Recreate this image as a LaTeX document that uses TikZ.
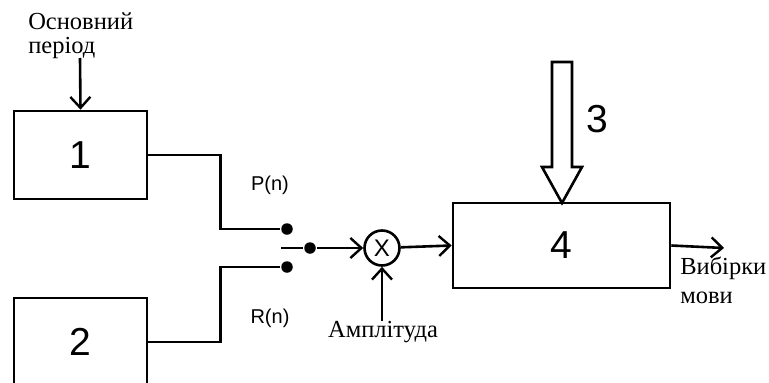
\documentclass[tikz,border=0pt]{standalone}
\usepackage{fontspec}
\setmainfont{Liberation Serif}
\newfontfamily\arial{Liberation Sans}
\usetikzlibrary{arrows.meta}
\begin{document}
\begin{tikzpicture}[x=1pt,y=-1pt,
  line width=2.6pt,
  blk/.style={draw, rectangle, inner sep=0pt, font=\arial\fontsize{39}{40}\selectfont},
  sig/.style={-{Straight Barb[length=11pt,width=20pt,line width=2.4pt]}},
  dotn/.style={circle, fill, inner sep=0pt, minimum size=11.5pt},
  lab/.style={font=\arial\fontsize{20}{22}\selectfont},
  ukr/.style={font=\fontsize{24.5}{30}\selectfont, inner sep=0pt}
]
\useasboundingbox (0,0) rectangle (769,383);
\clip (0,0) rectangle (769,383);
\fill[white] (0,0) rectangle (769,383);

% blocks
\node[blk, minimum width=133pt, minimum height=88pt] (b1) at (80.5,155) {1};
\node[blk, minimum width=133pt, minimum height=88pt] (b2) at (80.5,342) {2};
\node[blk, minimum width=217pt, minimum height=85pt] (b4) at (561.5,245.5) {4};
\node[draw, circle, minimum size=35pt, inner sep=0pt, font=\arial\fontsize{24}{24}\selectfont] (mul) at (382,248) {X};

% switch contacts
\node[dotn] (dP) at (287,229) {};
\node[dotn] (dR) at (287,267) {};
\node[dotn] (dM) at (310,248) {};
\coordinate (sw) at (281,248);

% connectors
\draw (b1.east) -- ++(72,0) |- (dP);
\draw (b2.east) -- ++(72,0) |- (dR);
\draw (sw) -- (dM);
\draw[sig] (dM) -- (mul);
\draw[sig] (mul) -- (b4.west);

\coordinate (per) at (80,58);
\draw[sig] (per) -- (b1.north);
\coordinate (amp) at (382,321);
\draw[sig] (amp) -- (mul.south);
\coordinate (out) at (724,248);
\draw[sig] (b4.east) -- (out);

% hollow arrow 3
\draw[line join=miter] (552,62) -- (572,62) -- (572,167) -- (582,167) -- (562,203) -- (542,167) -- (552,167) -- cycle;

% labels
\node[ukr, anchor=west] (t1) at (27,21) {Основний};
\node[ukr, anchor=west] (t2) at (27,48) {період};
\node[lab] (lp) at (270,185) {P(n)};
\node[lab] (lr) at (270,318) {R(n)};
\node[ukr] (ta) at (383,332) {Амплітуда};
\node[ukr, anchor=west] (tv1) at (679,268) {Вибірки};
\node[ukr, anchor=west] (tv2) at (679,298) {мови};
\node[font=\arial\fontsize{39}{40}\selectfont] (l3) at (597,119) {3};
\end{tikzpicture}
\end{document}
